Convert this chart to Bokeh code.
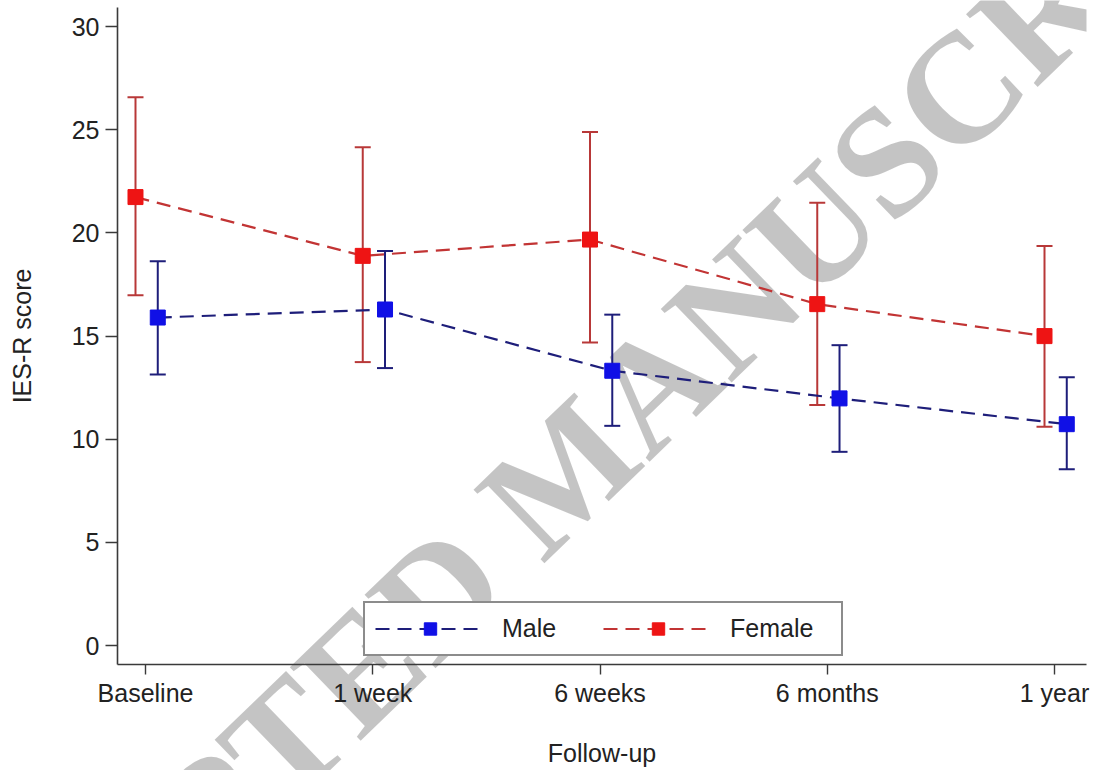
from bokeh.plotting import figure
from bokeh.layouts import column
from bokeh.models import (ColumnDataSource, Range1d, FixedTicker, Whisker, TeeHead,
                          Legend, LegendItem, Label)
from bokeh.embed import file_html
from bokeh.resources import INLINE

# ---------------- data ----------------
categories = ["Baseline", "1 week", "6 weeks", "6 months", "1 year"]

male_mean = [15.90, 16.29, 13.32, 11.98, 10.73]
male_upper = [18.63, 19.13, 16.04, 14.56, 13.00]
male_lower = [13.14, 13.45, 10.65, 9.39, 8.55]

female_mean = [21.74, 18.89, 19.68, 16.55, 15.00]
female_upper = [26.58, 24.16, 24.90, 21.47, 19.37]
female_lower = [16.98, 13.74, 14.69, 11.66, 10.61]

y_ticks = [0, 5, 10, 15, 20, 25, 30]

# ---------------- styling ----------------
FONT = "Liberation Sans"
FS = "25px"
TXT = "#222222"
AX = "#3a3a3a"

male_marker = "#1010e6"
male_line = "#1e1e7a"
female_marker = "#ee1414"
female_line = "#c23434"
female_err = "#b83838"

female_off = -0.044
male_off = 0.054

W, H = 1092, 770

idx = list(range(len(categories)))
src_m = ColumnDataSource(dict(x=[i + male_off for i in idx], y=male_mean,
                              upper=male_upper, lower=male_lower))
src_f = ColumnDataSource(dict(x=[i + female_off for i in idx], y=female_mean,
                              upper=female_upper, lower=female_lower))

# ---------- watermark layer (drawn underneath the chart) ----------
bg = figure(width=W, height=H, output_backend="svg", toolbar_location=None,
            x_range=Range1d(0, W), y_range=Range1d(0, H),
            x_axis_location=None, y_axis_location=None,
            min_border_left=0, min_border_right=0, min_border_top=0,
            min_border_bottom=0)
bg.outline_line_color = None
bg.grid.visible = False
bg.background_fill_color = "white"
bg.border_fill_color = "white"
wm = Label(x=503, y=299, text="ACCEPTED MANUSCRIPT", angle=44,
           angle_units="deg", text_font="Liberation Serif",
           text_font_style="bold",
           text_font_size="156px", text_color="black", text_alpha=0.23,
           text_align="center", text_baseline="middle")
bg.add_layout(wm)

# ---------- chart ----------
p = figure(width=W, height=H, output_backend="svg", toolbar_location=None,
           x_range=Range1d(-0.1232, 4.1408), y_range=Range1d(-0.92, 30.93),
           min_border_left=117, min_border_right=6, min_border_top=7,
           min_border_bottom=106)
p.margin = (-H, 0, 0, 0)
p.outline_line_color = None
p.xgrid.visible = False
p.ygrid.visible = False
p.background_fill_alpha = 0
p.border_fill_alpha = 0

# error bars
for src, col in ((src_f, female_err), (src_m, male_line)):
    w = Whisker(base="x", upper="upper", lower="lower", source=src,
                dimension="height", line_color=col, line_width=2,
                upper_head=TeeHead(size=16, line_color=col, line_width=2),
                lower_head=TeeHead(size=16, line_color=col, line_width=2))
    p.add_layout(w)

lf = p.line("x", "y", source=src_f, line_color=female_line, line_width=2.2,
            line_dash="14 8")
sf = p.scatter("x", "y", source=src_f, marker="square", size=15,
               fill_color=female_marker, line_color=female_marker)
lm = p.line("x", "y", source=src_m, line_color=male_line, line_width=2.2,
            line_dash="14 8")
sm = p.scatter("x", "y", source=src_m, marker="square", size=15,
               fill_color=male_marker, line_color=male_marker)

# axes
p.xaxis.ticker = FixedTicker(ticks=idx)
p.xaxis.major_label_overrides = {i: c for i, c in zip(idx, categories)}
p.yaxis.ticker = FixedTicker(ticks=y_ticks)
for ax in (p.xaxis[0], p.yaxis[0]):
    ax.axis_line_color = AX
    ax.axis_line_width = 1.6
    ax.major_tick_line_color = AX
    ax.major_tick_line_width = 1.4
    ax.major_tick_in = 0
    ax.minor_tick_line_color = None
    ax.major_label_text_font = FONT
    ax.major_label_text_font_size = FS
    ax.major_label_text_color = TXT
    ax.axis_label_text_font = FONT
    ax.axis_label_text_font_size = FS
    ax.axis_label_text_color = TXT
    ax.axis_label_text_font_style = "normal"
p.yaxis.major_tick_out = 12
p.yaxis.major_label_standoff = 6
p.yaxis.axis_label = "IES-R score"
p.yaxis.axis_label_standoff = 33
p.xaxis.major_tick_out = 10
p.xaxis.major_label_standoff = 4
p.xaxis.axis_label = "Follow-up"
p.xaxis.axis_label_standoff = 29

legend = Legend(items=[LegendItem(label="Male", renderers=[lm, sm]),
                       LegendItem(label="Female", renderers=[lf, sf])],
                orientation="horizontal", location=(246, 8), margin=0,
                padding=10, spacing=0, glyph_width=110, glyph_height=31,
                label_standoff=17, label_width=101,
                label_text_font=FONT, label_text_font_size=FS,
                label_text_color=TXT, border_line_color="#1a1a1a",
                border_line_width=2, background_fill_color="white",
                background_fill_alpha=1.0)
p.add_layout(legend, "center")

layout = column(bg, p, spacing=0)
open("out.html", "w").write(file_html(layout, INLINE))
